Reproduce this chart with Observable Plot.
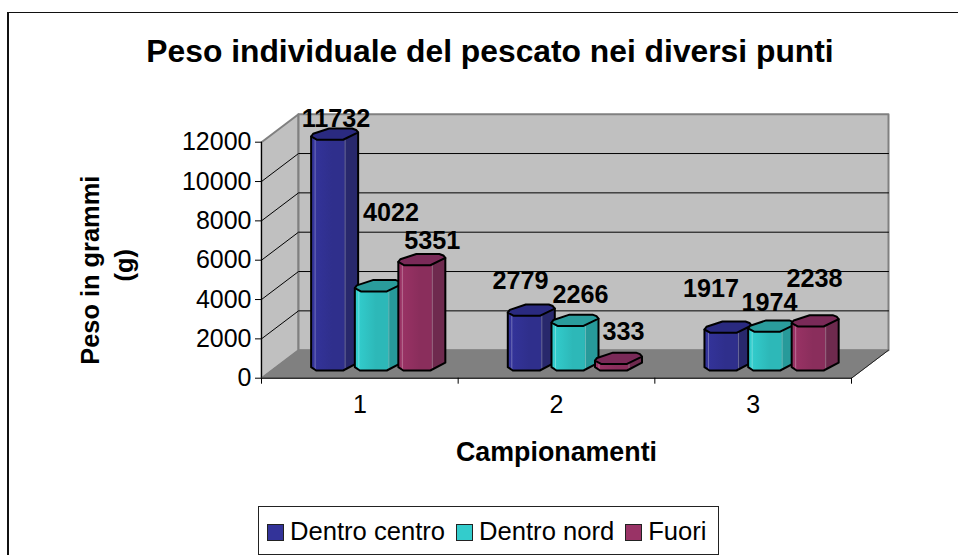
<!DOCTYPE html>
<html><head><meta charset="utf-8">
<script src="https://cdn.jsdelivr.net/npm/d3@7"></script>
<script src="https://cdn.jsdelivr.net/npm/@observablehq/plot@0.6"></script>
<style>
html,body{margin:0;padding:0;background:#fff;overflow:hidden}
body{width:958px;height:555px;position:relative;font-family:"Liberation Sans",Arial,sans-serif;color:#000}
#frame{position:absolute;left:7px;top:12px;right:0;bottom:0;border-left:2px solid #111;border-top:1.5px solid #111;pointer-events:none}
#title{position:absolute;left:490px;top:33px;transform:translateX(-50%);font-size:31.8px;font-weight:bold;line-height:36px;white-space:nowrap}
#legend{position:absolute;left:258px;top:506px;width:459px;height:47px;border:1px solid #222;display:flex;align-items:center;box-sizing:content-box;background:#fff}
#legend .item{display:flex;align-items:center;margin-left:8px;font-size:25.6px;line-height:30px}
#legend .item+.item{margin-left:11px}
#legend .sw{width:15px;height:15px;border:1.5px solid #222;margin-right:6px;margin-top:4px;display:inline-block}
#chart{position:absolute;left:0;top:0}
</style></head>
<body>
<div id="frame"></div>
<div id="chart"></div>
<div id="title">Peso individuale del pescato nei diversi punti</div>
<div id="legend"></div>
<script>
const categories = ["1", "2", "3"];
const seriesNames = ["Dentro centro", "Dentro nord", "Fuori"];
const dentroCentro = [11732, 2779, 1917];
const dentroNord = [4022, 2266, 1974];
const fuori = [5351, 333, 2238];
const yTicks = [0, 2000, 4000, 6000, 8000, 10000, 12000];

// styles & layout (separate from data)
const faceColors = [["#34349c", "#2f2f8c", "#28286c"], ["#33d0d0", "#2db8b8", "#279a9a"], ["#9c3366", "#8a2e5c", "#6e2a4e"]];
const topColors = ["#2a2a80", "#2a9c9c", "#7a2a58"];
const swatchColors = ["#333399", "#33cccc", "#993366"];
const x0 = 261, x1 = 851, yBottom = 377.7, yTop = 141.7;
const pxX = 3 / (x1 - x0), pxY = 12000 / (yBottom - yTop);
const depthX = 37, depthY = 28;
const barLeft = [-48.7, -5, 38.5];
const baseLift = 11;
const labelShift = [
  [[1.4, -20], [12.7, -78.6], [10.4, -24.4]],
  [[-10.8, -35], [5.5, -30.4], [5, -31.2]],
  [[-17, -43.3], [-2.2, -28.2], [-0.7, -47]]
];
const topShape = [[0,0],[6,3.3],[32,3.3],[47,-4],[45,-6.5],[41,-8],[18,-8],[2,-2.7],[0,0]];

const X = (u, px = 0) => u + px * pxX;
const Y = (v, px = 0) => v - px * pxY;
const poly = (pts, opts) => Plot.line(pts, {x: d => d[0], y: d => d[1], curve: "linear", ...opts});

const values = [dentroCentro, dentroNord, fuori];
const bars = categories.flatMap((c, ci) => seriesNames.map((s, si) => ({ci, si, value: values[si][ci]})));

function barMarks(b) {
  const cx = b.ci + 0.5;
  const L = barLeft[b.si];
  const pt = (ox, v, oy) => [X(cx, L + ox), Y(v, oy - baseLift)];
  const body = [
    pt(0, b.value, 0), pt(0, 0, 0), pt(5, 0, 3.3), pt(32, 0, 3.3), pt(47, 0, -4.5), pt(47, b.value, -4), pt(0, b.value, 0)
  ];
  const top = topShape.map(([ox, oy]) => pt(ox, b.value, oy));
  const facet = ox => poly([pt(ox, b.value, 3), pt(ox, 0, 3)], {stroke: "#fff", strokeOpacity: 0.3, strokeWidth: 1});
  return [
    poly(body, {fill: `url(#grad${b.si})`, stroke: "none"}),
    facet(4), facet(34),
    poly(body, {stroke: "#000", strokeWidth: 2, strokeLinejoin: "round"}),
    poly(top, {fill: topColors[b.si], stroke: "#000", strokeWidth: 2, strokeLinejoin: "round"})
  ];
}

const defs = () => {
  const d = d3.create("svg:defs");
  faceColors.forEach((c, i) => {
    const g = d.append("linearGradient").attr("id", "grad" + i).attr("x1", 0).attr("x2", 1).attr("y1", 0).attr("y2", 0);
    [[0, c[0]], [0.45, c[1]], [0.7, c[1]], [0.72, c[2]], [1, c[2]]].forEach(([o, col]) =>
      g.append("stop").attr("offset", o).attr("stop-color", col));
  });
  return d.node();
};

const dX = depthX * pxX, dY = depthY * pxY;
const plot = Plot.plot({
  width: 958, height: 555,
  marginLeft: x0, marginRight: 958 - x1, marginTop: yTop, marginBottom: 555 - yBottom,
  style: {background: "transparent", fontFamily: '"Liberation Sans",Arial,sans-serif', color: "#000", overflow: "visible"},
  x: {domain: [0, 3], range: [x0, x1], axis: null},
  y: {domain: [0, 12000], range: [yBottom, yTop], axis: null},
  marks: [
    defs,
    // side wall, back wall
    poly([[0, 0], [0, 12000], [dX, 12000 + dY], [dX, dY], [0, 0]], {fill: "#c0c0c0", stroke: "#808080", strokeWidth: 2}),
    poly([[dX, dY], [dX, 12000 + dY], [3 + dX, 12000 + dY], [3 + dX, dY], [dX, dY]], {fill: "#c0c0c0", stroke: "#808080", strokeWidth: 2}),
    // grid
    ...yTicks.filter(t => t > 0 && t < 12000).map(t =>
      poly([[0, t], [dX, t + dY], [3 + dX, t + dY]], {stroke: "#000", strokeWidth: 1})),
    // floor
    poly([[0, 0], [dX, dY], [3 + dX, dY], [3, 0], [0, 0]], {fill: "#808080", stroke: "#808080", strokeWidth: 1}),
    poly([[3, 0], [3 + dX, dY]], {stroke: "#222", strokeWidth: 1}),
    // bars
    ...bars.flatMap(barMarks),
    // data labels
    ...bars.map(b => {
      const [dx, dy] = labelShift[b.ci][b.si];
      return Plot.text([b], {
        x: d => d.ci + 0.5 + (barLeft[d.si] + 23.5) * pxX, y: "value", text: d => String(d.value),
        dx, dy, lineAnchor: "bottom", textAnchor: "middle", fontSize: 25.2, fontWeight: "bold", fill: "#000"
      });
    }),
    // axes
    Plot.ruleX([0], {y1: 0, y2: 12000, stroke: "#000", strokeWidth: 1}),
    Plot.ruleY([0], {x1: 0, x2: 3, stroke: "#000", strokeWidth: 1}),
    Plot.axisY({ticks: yTicks, tickFormat: "d", tickSize: 6, tickPadding: 4, fontSize: 25, label: null, stroke: "#000", fill: "#000"}),
    Plot.axisX({ticks: [0, 1, 2, 3], tickFormat: () => "", tickSize: 6, label: null, stroke: "#000"}),
    Plot.axisX({ticks: [0.5, 1.5, 2.5], tickFormat: d => categories[Math.floor(d)], tickSize: 0, tickPadding: 17, fontSize: 25, label: null, fill: "#000"}),
    // axis titles
    Plot.text(["Campionamenti"], {x: X(1.5), y: Y(0, 83), text: d => d, lineAnchor: "bottom", textAnchor: "middle", fontSize: 26.8, fontWeight: "bold", fill: "#000"}),
    Plot.text(["Peso in grammi"], {x: X(0, -163), y: Y(0, -108), text: d => d, rotate: -90, lineAnchor: "bottom", textAnchor: "middle", fontSize: 25.4, fontWeight: "bold", fill: "#000"}),
    Plot.text(["(g)"], {x: X(0, -128.3), y: Y(0, -113), text: d => d, rotate: -90, lineAnchor: "bottom", textAnchor: "middle", fontSize: 25.4, fontWeight: "bold", fill: "#000"})
  ]
});
document.getElementById("chart").append(plot);

const legend = d3.select("#legend");
seriesNames.forEach((s, i) => {
  const it = legend.append("span").attr("class", "item");
  it.append("span").attr("class", "sw").style("background", swatchColors[i]);
  it.append("span").text(s);
});
</script>
</body></html>
